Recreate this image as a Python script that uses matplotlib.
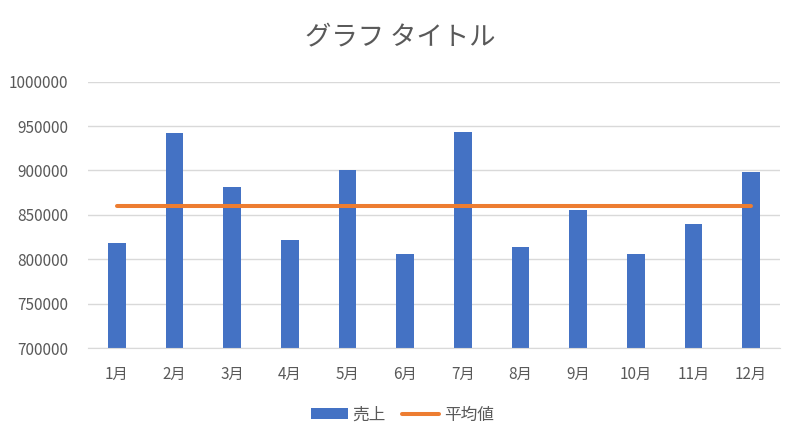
import matplotlib
matplotlib.use("Agg")
import matplotlib.pyplot as plt
from matplotlib.patches import Patch
from matplotlib.lines import Line2D
import numpy as np

plt.rcParams['font.family'] = ['Noto Sans CJK JP', 'DejaVu Sans']

months = ["1月", "2月", "3月", "4月", "5月", "6月", "7月", "8月", "9月", "10月", "11月", "12月"]
sales = [818000, 942000, 881000, 822000, 900000, 806000, 943000, 814000, 856000, 806000, 840000, 898000]
average = [860500] * 12
yticks = [700000, 750000, 800000, 850000, 900000, 950000, 1000000]

title = "グラフ タイトル"
bar_label = "売上"
line_label = "平均値"

blue = "#4472C4"
orange = "#ED7D31"
text_gray = "#595959"
grid_gray = "#D9D9D9"

fig = plt.figure(figsize=(8.0, 4.43), dpi=100)
ax = fig.add_axes([0.11, 0.2144, 0.865, 0.6012])

x = np.arange(len(months))
bars = ax.bar(x, sales, width=0.31, color=blue, label=bar_label, zorder=2)
line, = ax.plot(x, average, color=orange, linewidth=2.9, solid_capstyle='round', label=line_label, zorder=3)

ax.set_xlim(-0.5, len(months) - 0.5)
ax.set_ylim(700000, 1000000)
ax.set_yticks(yticks)
ax.set_yticklabels([str(v) for v in yticks])
ax.set_xticks(x)
ax.set_xticklabels(months)

ax.grid(axis='y', color=grid_gray, linewidth=1, zorder=0)
ax.set_axisbelow(True)
for s in ['top', 'right', 'left']:
    ax.spines[s].set_visible(False)
ax.spines['bottom'].set_color(grid_gray)
ax.tick_params(axis='both', length=0, colors=text_gray, labelsize=11)
ax.tick_params(axis='y', pad=14)
ax.tick_params(axis='x', pad=13)

fig.suptitle(title, x=0.5, y=0.945, fontsize=19, color=text_gray)

handles = [Patch(facecolor=blue, label=bar_label),
           Line2D([0], [0], color=orange, linewidth=2.9, solid_capstyle='round', label=line_label)]
leg = fig.legend(handles=handles, loc='center', bbox_to_anchor=(0.503, 0.063), ncol=2, frameon=False,
                 fontsize=12, handlelength=2.2, handleheight=0.6, handletextpad=0.3, columnspacing=1.0)
for t in leg.get_texts():
    t.set_color(text_gray)

fig.savefig("out.png", dpi=100, facecolor='white')
